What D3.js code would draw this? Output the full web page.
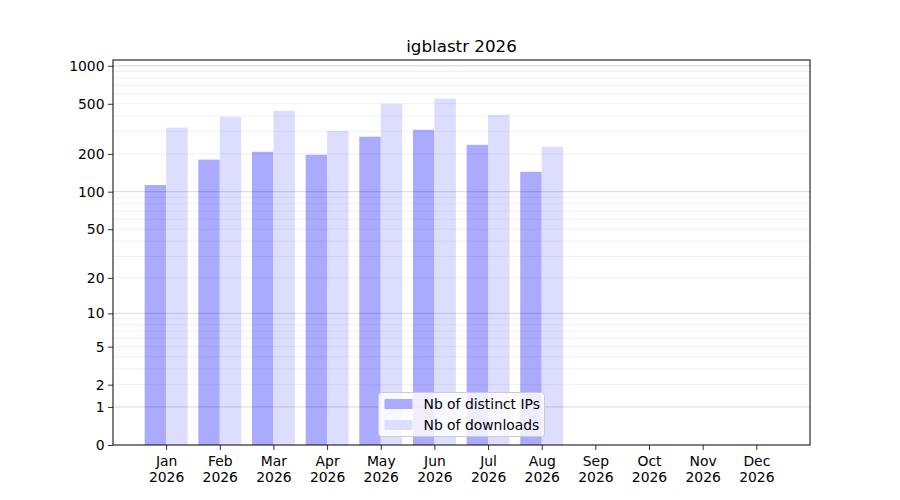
<!DOCTYPE html>
<html>
<head>
<meta charset="utf-8">
<script src="https://cdn.jsdelivr.net/npm/d3@7"></script>
<style>
  body { margin: 0; background: #fff; }
  svg { display: block; }
  svg text { font-family: "DejaVu Sans", sans-serif; }
</style>
</head>
<body>
<svg id="chart"></svg>
<script>
let months = ["Jan", "Feb", "Mar", "Apr", "May", "Jun", "Jul", "Aug", "Sep", "Oct", "Nov", "Dec"]
let year = "2026"
let distinctIPs = [113, 180, 208, 197, 274, 311, 236, 144]
let downloads = [323, 394, 440, 305, 500, 548, 409, 228]
let yTicks = [0, 1, 2, 5, 10, 20, 50, 100, 200, 500, 1000]
let majorGrid = [1, 10, 100, 1000]
let minorGrid = [2, 3, 4, 5, 6, 7, 8, 9, 20, 30, 40, 50, 60, 70, 80, 90, 200, 300, 400, 500, 600, 700, 800, 900]

let W = 900, H = 500
let margin = { top: 60, right: 90, bottom: 55, left: 113 }
let width = W - margin.left - margin.right,
    height = H - margin.top - margin.bottom

let svg = d3.select("#chart")
    .attr("width", W)
    .attr("height", H)

let g = svg.append("g")
    .attr("transform", "translate(" + margin.left + "," + margin.top + ")")

let x = d3.scaleLinear().domain([0.01, 13]).range([0, width])
let y = d3.scaleSymlog().constant(1).domain([0, 1111]).range([height, 0])
let barW = x(0.4) - x(0)

// bars
g.selectAll(".ip")
    .data(distinctIPs)
    .enter().append("rect")
    .attr("class", "ip")
    .attr("x", (d, i) => x(i + 1) - barW)
    .attr("y", d => y(d))
    .attr("width", barW)
    .attr("height", d => height - y(d))
    .attr("fill", "#aaaaff")

g.selectAll(".dl")
    .data(downloads)
    .enter().append("rect")
    .attr("class", "dl")
    .attr("x", (d, i) => x(i + 1))
    .attr("y", d => y(d))
    .attr("width", barW)
    .attr("height", d => height - y(d))
    .attr("fill", "#ddddff")

// grid on top, semi transparent
g.selectAll(".minor")
    .data(minorGrid)
    .enter().append("line")
    .attr("x1", 0).attr("x2", width)
    .attr("y1", d => y(d)).attr("y2", d => y(d))
    .attr("stroke", "#000")
    .attr("stroke-opacity", 0.075)
    .attr("stroke-width", 0.8)

g.selectAll(".major")
    .data(majorGrid)
    .enter().append("line")
    .attr("x1", 0).attr("x2", width)
    .attr("y1", d => y(d)).attr("y2", d => y(d))
    .attr("stroke", "#000")
    .attr("stroke-opacity", 0.2)
    .attr("stroke-width", 0.8)

// axes
let xAxis = g.append("g")
    .attr("transform", "translate(0," + height + ")")
    .call(d3.axisBottom(x).tickValues(d3.range(1, 13)).tickSize(5).tickSizeOuter(0).tickFormat(""))
xAxis.selectAll(".tick").append("text")
    .attr("fill", "#000")
    .attr("text-anchor", "middle")
    .style("font-size", "13.9px")
    .each(function (d) {
        let t = d3.select(this)
        t.append("tspan").attr("x", 0).attr("y", 21).text(months[d - 1])
        t.append("tspan").attr("x", 0).attr("y", 37).text(year)
    })

let yAxis = g.append("g")
    .call(d3.axisLeft(y).tickValues(yTicks).tickSize(5).tickSizeOuter(0).tickFormat(d3.format("d")))
yAxis.selectAll("text")
    .attr("x", -8.5)
    .attr("fill", "#000")
    .style("font-size", "13.9px")

g.selectAll(".domain").remove()
g.selectAll(".tick line").attr("stroke", "#000").attr("stroke-width", 0.8)

g.append("rect")
    .attr("width", width)
    .attr("height", height)
    .attr("fill", "none")
    .attr("stroke", "#000")
    .attr("stroke-width", 1)

// title
svg.append("text")
    .attr("x", margin.left + width / 2)
    .attr("y", margin.top - 8)
    .attr("text-anchor", "middle")
    .style("font-size", "16.7px")
    .text("igblastr " + year)

// legend
let legendItems = [
    { label: "Nb of distinct IPs", color: "#aaaaff" },
    { label: "Nb of downloads", color: "#ddddff" }
]
let legend = svg.append("g")
    .attr("transform", "translate(378.5,392.5)")
legend.append("rect")
    .attr("width", 166)
    .attr("height", 44)
    .attr("rx", 3)
    .attr("fill", "#fff")
    .attr("fill-opacity", 0.8)
    .attr("stroke", "#cccccc")
    .attr("stroke-width", 1)
let item = legend.selectAll(".item")
    .data(legendItems)
    .enter().append("g")
    .attr("transform", (d, i) => "translate(6," + (6.5 + i * 21) + ")")
item.append("rect")
    .attr("width", 28)
    .attr("height", 10)
    .attr("fill", d => d.color)
item.append("text")
    .attr("x", 39)
    .attr("y", 10)
    .style("font-size", "13.9px")
    .text(d => d.label)
</script>
</body>
</html>
